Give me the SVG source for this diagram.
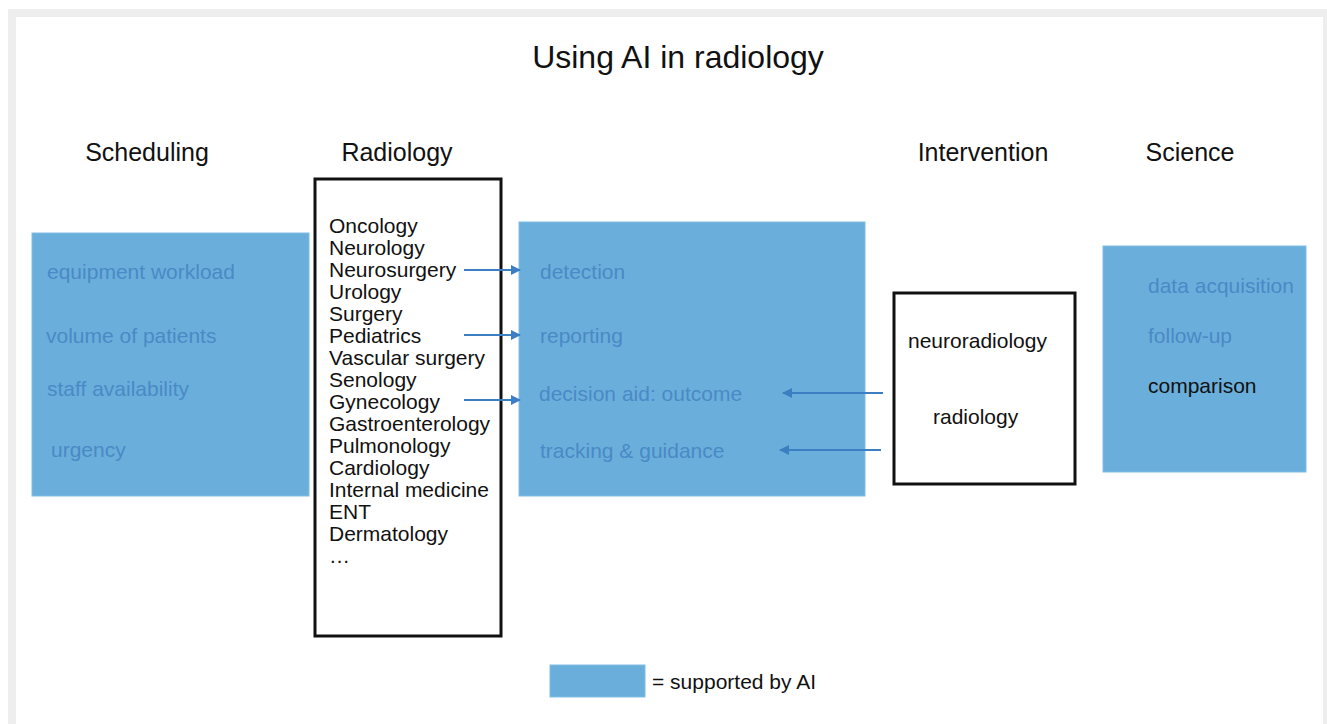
<svg xmlns="http://www.w3.org/2000/svg" width="1327" height="724" viewBox="0 0 1327 724">
<defs>
<style>
text{font-family:"Liberation Sans",Arial,sans-serif;fill:#111;}
.title{font-size:32px;text-anchor:middle;}
.head{font-size:25px;text-anchor:middle;}
.t{font-size:21px;}
.ai{font-size:21px;fill:#4a89c6;}
.blue{fill:#6aafdb;stroke:#80bde5;stroke-width:1;}
.box{fill:#fff;stroke:#111;stroke-width:3;}
.arr{stroke:#3b7fc2;stroke-width:2;fill:none;marker-end:url(#ah);}
</style>
<marker id="ah" viewBox="0 0 10 10" refX="9" refY="5" markerWidth="5" markerHeight="5" orient="auto" markerUnits="strokeWidth">
<path d="M0,0 L10,5 L0,10 Z" fill="#3b7fc2"/>
</marker>
</defs>
<rect x="8" y="9" width="1319" height="715" fill="#eeeeee"/>
<rect x="16" y="17" width="1307" height="707" fill="#ffffff"/>
<text class="title" x="678" y="68">Using AI in radiology</text>
<g id="headers">
<text class="head" x="147" y="161">Scheduling</text>
<text class="head" x="397" y="161">Radiology</text>
<text class="head" x="983" y="161">Intervention</text>
<text class="head" x="1190" y="161">Science</text>
</g>
<g id="scheduling">
<rect class="blue" x="32" y="233" width="277" height="263"/>
<text class="ai" x="47" y="279">equipment workload</text>
<text class="ai" x="46" y="343">volume of patients</text>
<text class="ai" x="47" y="396">staff availability</text>
<text class="ai" x="51" y="457">urgency</text>
</g>
<g id="radiology">
<rect class="box" x="315" y="179" width="186" height="457"/>
<text class="t" x="329" y="233">Oncology</text>
<text class="t" x="329" y="255">Neurology</text>
<text class="t" x="329" y="277">Neurosurgery</text>
<text class="t" x="329" y="299">Urology</text>
<text class="t" x="329" y="321">Surgery</text>
<text class="t" x="329" y="343">Pediatrics</text>
<text class="t" x="329" y="365">Vascular surgery</text>
<text class="t" x="329" y="387">Senology</text>
<text class="t" x="329" y="409">Gynecology</text>
<text class="t" x="329" y="431">Gastroenterology</text>
<text class="t" x="329" y="453">Pulmonology</text>
<text class="t" x="329" y="475">Cardiology</text>
<text class="t" x="329" y="497">Internal medicine</text>
<text class="t" x="329" y="519">ENT</text>
<text class="t" x="329" y="541">Dermatology</text>
<text class="t" x="329" y="563">…</text>
</g>
<g id="tasks">
<rect class="blue" x="519" y="222" width="346" height="274"/>
<text class="ai" x="540" y="279">detection</text>
<text class="ai" x="540" y="343">reporting</text>
<text class="ai" x="539" y="401">decision aid: outcome</text>
<text class="ai" x="540" y="458">tracking &amp; guidance</text>
</g>
<g id="intervention">
<rect class="box" x="894" y="293" width="181" height="191"/>
<text class="t" x="908" y="348">neuroradiology</text>
<text class="t" x="933" y="424">radiology</text>
</g>
<g id="science">
<rect class="blue" x="1103" y="246" width="203" height="226"/>
<text class="ai" x="1148" y="293">data acquisition</text>
<text class="ai" x="1148" y="343">follow-up</text>
<text class="t" x="1148" y="393">comparison</text>
</g>
<g id="connectors">
<line class="arr" x1="464" y1="270" x2="520" y2="270"/>
<line class="arr" x1="464" y1="335" x2="520" y2="335"/>
<line class="arr" x1="464" y1="400" x2="520" y2="400"/>
<line class="arr" x1="883" y1="393" x2="783" y2="393"/>
<line class="arr" x1="881" y1="450" x2="780" y2="450"/>
</g>
<g id="legend">
<rect class="blue" x="550" y="665" width="95" height="32"/>
<text class="t" x="652" y="689">= supported by AI</text>
</g>
</svg>
